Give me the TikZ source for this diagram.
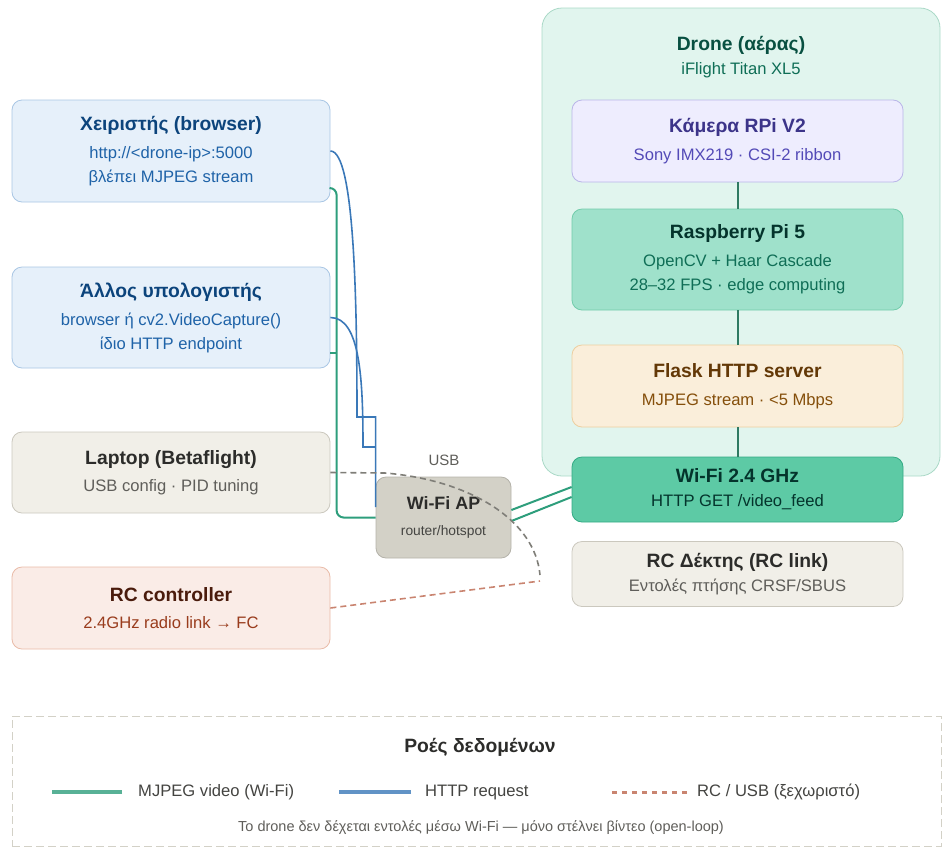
\documentclass[tikz,border=0pt]{standalone}
\usepackage{fontspec}
\setmainfont{Liberation Sans}
\usetikzlibrary{arrows}

\definecolor{clientfill}{HTML}{E6F0FA}
\definecolor{clientline}{HTML}{A9C6E4}
\definecolor{clientttl}{HTML}{0C447C}
\definecolor{clientsub}{HTML}{1F63A8}
\definecolor{greyfill}{HTML}{F1EFE8}
\definecolor{greyline}{HTML}{CBC8BE}
\definecolor{greyttl}{HTML}{2C2C2A}
\definecolor{greysub}{HTML}{5F5E5A}
\definecolor{rcfill}{HTML}{FAECE7}
\definecolor{rcline}{HTML}{E9BBA8}
\definecolor{rcttl}{HTML}{4A1B0C}
\definecolor{rcsub}{HTML}{993C1D}
\definecolor{dronefill}{HTML}{E1F5EE}
\definecolor{droneline}{HTML}{AAD9C7}
\definecolor{dronettl}{HTML}{085041}
\definecolor{dronesub}{HTML}{0F6E56}
\definecolor{camfill}{HTML}{EEEDFE}
\definecolor{camline}{HTML}{B9B5E8}
\definecolor{camttl}{HTML}{3C3489}
\definecolor{camsub}{HTML}{534AB7}
\definecolor{pifill}{HTML}{9FE1CB}
\definecolor{piline}{HTML}{72CCAB}
\definecolor{flaskfill}{HTML}{FAEEDA}
\definecolor{flaskline}{HTML}{EDCFA0}
\definecolor{flaskttl}{HTML}{633806}
\definecolor{flasksub}{HTML}{854F0B}
\definecolor{wififill}{HTML}{5DCAA5}
\definecolor{wifiline}{HTML}{34AA84}
\definecolor{wifittl}{HTML}{04342C}
\definecolor{apfill}{HTML}{D3D1C7}
\definecolor{apline}{HTML}{B4B2A9}
\definecolor{apsub}{HTML}{444441}
\definecolor{busgreen}{HTML}{2F7A62}
\definecolor{videogreen}{HTML}{2E9E7C}
\definecolor{httpblue}{HTML}{3A78B8}
\definecolor{usbgrey}{HTML}{7F7E78}
\definecolor{rcdash}{HTML}{C98470}
\definecolor{legendline}{HTML}{D3D1C7}

\newcommand{\hd}[2]{{\color{#1}\fontsize{19.3}{24}\selectfont\bfseries #2}}

\begin{document}
\begin{tikzpicture}[x=1pt,y=-1pt,
  box/.style={rectangle,rounded corners=10pt,draw,line width=0.8pt,align=center,
              inner sep=0pt,font=\fontsize{16.6}{24}\selectfont},
  client/.style={box,fill=clientfill,draw=clientline,text=clientsub,minimum width=318pt},
  greybox/.style={box,fill=greyfill,draw=greyline,text=greysub},
  part/.style={box,minimum width=331pt},
  busline/.style={line width=2pt,draw=busgreen},
  video/.style={line width=2pt,draw=videogreen},
  http/.style={line width=1.6pt,draw=httpblue},
  usbline/.style={line width=1.6pt,draw=usbgrey,dash pattern=on 6pt off 4pt},
  rclink/.style={line width=1.6pt,draw=rcdash,dash pattern=on 6pt off 4pt},
  legendtxt/.style={anchor=west,inner sep=0pt,text=apsub,font=\fontsize{16.6}{20}\selectfont}]
\useasboundingbox (0,0) rectangle (942,852);

% ground side
\node[client,minimum height=102pt] (ctrl) at (171,151)
  {\hd{clientttl}{Χειριστής (browser)}\\[4pt] http://<drone-ip>:5000\\ βλέπει MJPEG stream};
\node[client,minimum height=101pt] (other) at (171,317.5)
  {\hd{clientttl}{Άλλος υπολογιστής}\\[4pt] browser ή cv2.VideoCapture()\\ ίδιο HTTP endpoint};
\node[greybox,minimum width=318pt,minimum height=81pt] (laptop) at (171,472.5)
  {\hd{greyttl}{Laptop (Betaflight)}\\[3pt] USB config · PID tuning};
\node[box,fill=rcfill,draw=rcline,text=rcsub,minimum width=318pt,minimum height=82pt] (rc) at (171,608)
  {\hd{rcttl}{RC controller}\\[3pt] 2.4GHz radio link → FC};

% access point
\node[box,fill=apfill,draw=apline,text=apsub,minimum width=135pt,minimum height=81pt,
      font=\fontsize{13.8}{22}\selectfont] (ap) at (443.5,517.5)
  {{\color{greyttl}\fontsize{17.9}{22}\selectfont\bfseries Wi-Fi AP}\\[4pt] router/hotspot};
\node[text=greysub,font=\fontsize{15}{18}\selectfont] (usb) at (444,460) {USB};

% drone
\node[rectangle,rounded corners=20pt,fill=dronefill,draw=droneline,line width=0.8pt,
      minimum width=398pt,minimum height=468pt] (drone) at (741,242) {};
\node[align=center,text=dronesub,font=\fontsize{16.6}{24}\selectfont] (dronelbl) at (741,57)
  {\hd{dronettl}{Drone (αέρας)}\\ iFlight Titan XL5};
\node[part,fill=camfill,draw=camline,text=camsub,minimum height=82pt] (cam) at (737.5,141)
  {\hd{camttl}{Κάμερα RPi V2}\\[4pt] Sony IMX219 · CSI-2 ribbon};
\node[part,fill=pifill,draw=piline,text=dronesub,minimum height=101pt] (rpi) at (737.5,259.5)
  {\hd{wifittl}{Raspberry Pi 5}\\[4pt] OpenCV + Haar Cascade\\ 28–32 FPS · edge computing};
\node[part,fill=flaskfill,draw=flaskline,text=flasksub,minimum height=82pt] (flask) at (737.5,386)
  {\hd{flaskttl}{Flask HTTP server}\\[4pt] MJPEG stream · <5 Mbps};
\node[part,fill=wififill,draw=wifiline,text=wifittl,minimum height=65pt] (wifi) at (737.5,489.5)
  {\hd{wifittl}{Wi-Fi 2.4 GHz}\\ HTTP GET /video\_feed};
\node[part,fill=greyfill,draw=greyline,text=greysub,minimum height=65pt] (rcrx) at (737.5,574)
  {\hd{greyttl}{RC Δέκτης (RC link)}\\ Εντολές πτήσης CRSF/SBUS};

\draw[busline] (cam.south) -- (rpi.north);
\draw[busline] (rpi.south) -- (flask.north);
\draw[busline] (flask.south) -- (wifi.north);
\draw[video] ([yshift=7.5pt]ap.east) -- ([yshift=2.5pt]wifi.west);
\draw[video] ([yshift=-3.5pt]ap.east) -- ([yshift=-7.5pt]wifi.west);

% video and requests
\coordinate (req1) at (357,417);
\coordinate (req2) at (363,447);
\draw[video,rounded corners=7pt] ([yshift=-37pt]ctrl.east) -| ([xshift=-39pt]ap.west) -- (ap.west);
\draw[video] ([yshift=-35.5pt]other.east) -- ([yshift=-35.5pt,xshift=7pt]other.east);
\draw[http] (ctrl.east) .. controls ([xshift=24pt]ctrl.east) and (357,300) .. (req1)
  -| ([yshift=10.5pt]ap.west);
\draw[http] (other.east) .. controls ([xshift=30pt]other.east) and (363,380) .. (req2)
  -- (ap.west |- req2);

% usb and rc
\coordinate (usbbend) at (385,473);
\coordinate (rcbend) at (540,581);
\draw[usbline] (laptop.east) -- (usbbend) .. controls (470,480) and (535,520) .. (540,575);
\draw[rclink] (rc.east) -- (rcbend);

% legend
\node[rectangle,draw=legendline,line width=1pt,dash pattern=on 8pt off 4pt,
      minimum width=929pt,minimum height=130pt] (legend) at (476.5,781) {};
\node[text=greyttl,font=\fontsize{19.3}{24}\selectfont\bfseries] (lgttl) at (480,747) {Ροές δεδομένων};
\node[legendtxt] (lgvideo) at (138,792) {MJPEG video (Wi-Fi)};
\node[legendtxt] (lghttp) at (425,792) {HTTP request};
\node[legendtxt] (lgrc) at (697,792) {RC / USB (ξεχωριστό)};
\draw[video,line width=3.5pt,draw=videogreen!80] ([xshift=-16pt]lgvideo.west) -- ([xshift=-86pt]lgvideo.west);
\draw[http,line width=3.5pt,draw=httpblue!80] ([xshift=-14pt]lghttp.west) -- ([xshift=-86pt]lghttp.west);
\draw[rclink,line width=3pt,dash pattern=on 5pt off 5pt] ([xshift=-10pt]lgrc.west) -- ([xshift=-88pt]lgrc.west);
\node[text=greysub,font=\fontsize{14.5}{18}\selectfont] (note) at (481,828)
  {Το drone δεν δέχεται εντολές μέσω Wi-Fi — μόνο στέλνει βίντεο (open-loop)};

\end{tikzpicture}
\end{document}
